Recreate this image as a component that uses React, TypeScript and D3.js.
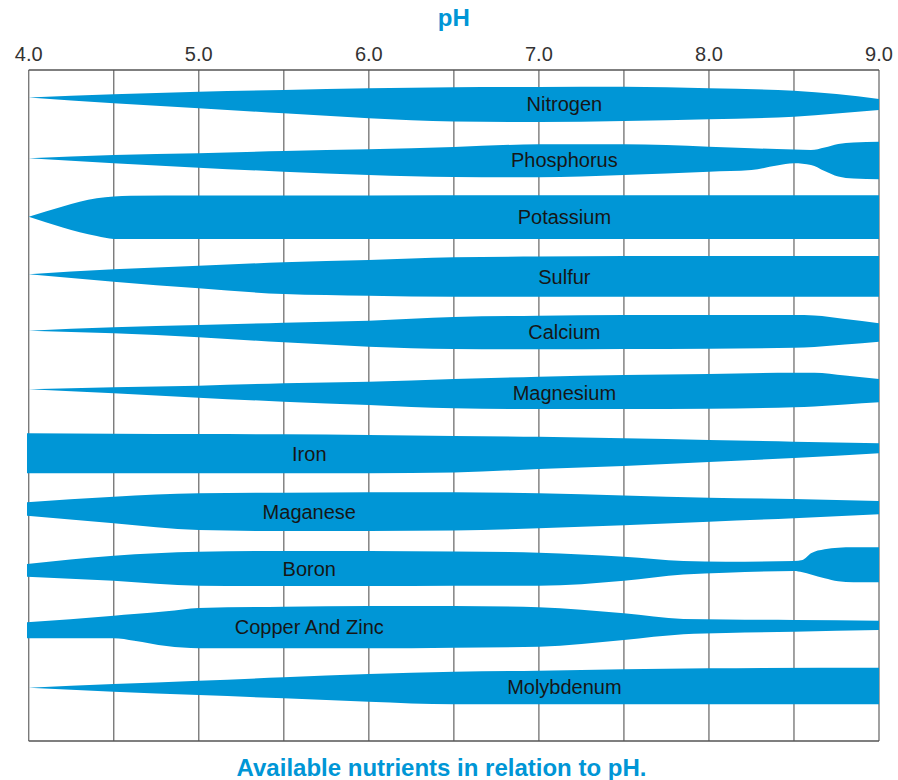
import React from 'react';
import * as d3 from 'd3';

const NUTRIENTS = ['Nitrogen', 'Phosphorus', 'Potassium', 'Sulfur', 'Calcium', 'Magnesium', 'Iron', 'Maganese', 'Boron', 'Copper And Zinc', 'Molybdenum'];
const LABEL_PH = [7.15, 7.15, 7.15, 7.15, 7.15, 7.15, 5.65, 5.65, 5.65, 5.65, 7.15];
const TICKS = [4, 5, 6, 7, 8, 9];
const GRID = [4, 4.5, 5, 5.5, 6, 6.5, 7, 7.5, 8, 8.5, 9];

// availability above (UP) and below (DN) each nutrient's row line
const N_PH = [4, 4.5, 5, 5.5, 6, 6.5, 7, 7.5, 8, 8.5, 8.75, 9];
const N_UP = [0, 3.2, 5.8, 7.5, 9.2, 10.2, 10.5, 10.7, 9.2, 6.8, 3.5, -1.5];
const N_DN = [0, 5.8, 10.8, 15.8, 20.8, 24, 24.5, 23.5, 21.8, 19.2, 16, 12.5];

const P_PH = [4, 4.5, 5, 5.5, 6, 6.5, 7, 7.5, 8, 8.25, 8.4, 8.5, 8.6, 8.68, 8.76, 8.85, 9];
const P_UP = [-2.3, 1, 2.7, 5, 6.7, 9, 11.7, 11.7, 9.3, 7.7, 7, 6.5, 6, 8.5, 12, 13.5, 14.3];
const P_DN = [2.3, 7.3, 11.7, 15.7, 19, 21, 21.3, 19, 15.7, 14, 9.5, 7.3, 9, 15, 20.5, 22.5, 23.3];

const K_PH = [4, 4.2, 4.4, 4.5, 4.6, 5, 6, 7, 8, 9];
const K_UP = [-2.2, 8, 16.2, 18, 18.8, 19, 19, 19.2, 19.2, 19.2];
const K_DN = [2.2, 13, 21.6, 24.5, 24.5, 24.5, 24.5, 24.5, 24.5, 24.5];

const S_PH = [4, 4.5, 5, 5.5, 6, 6.5, 7, 7.5, 8, 9];
const S_UP = [-1.3, 3.7, 7.3, 10.7, 13, 15.7, 16.5, 17, 17, 17];
const S_DN = [1.3, 8.7, 15.3, 21, 22.7, 23.7, 23.7, 23.7, 23.7, 23.7];

const CA_PH = [4, 4.5, 5, 5.5, 6, 6.5, 7, 7.5, 8, 8.5, 8.62, 8.8, 9];
const CA_UP = [0.8, 4.2, 6.5, 8.8, 10.8, 14.5, 15.8, 16.5, 16.5, 16.5, 16, 12.5, 8.2];
const CA_DN = [-0.8, 1.8, 5.8, 10.8, 15.2, 17.5, 17.8, 17.5, 17.2, 16.2, 15.5, 13, 10.2];

const MG_PH = [4, 4.5, 5, 5.5, 6, 6.5, 7, 7.5, 8, 8.5, 8.62, 8.8, 9];
const MG_UP = [0.7, 2.7, 4.3, 6.7, 8.3, 11, 13.3, 15, 16, 17.3, 17.3, 14.5, 11];
const MG_DN = [-0.7, 3.3, 7.7, 11.7, 15, 18.3, 19, 19, 18.7, 17.3, 16.5, 14.5, 12.3];

const FE_PH = [3.99, 4.5, 5, 5.5, 6, 6.5, 7, 7.5, 8, 8.5, 9];
const FE_UP = [15.2, 14.8, 14.5, 14.2, 13.5, 12.5, 11.8, 10.2, 8.5, 6.8, 5.2];
const FE_DN = [24.8, 24.8, 24.8, 24.8, 24.8, 24, 20.5, 17.5, 13.5, 9.5, 4.8];

const MN_PH = [3.99, 4.5, 5, 5.5, 6, 6.5, 7, 7.5, 8, 8.5, 9];
const MN_UP = [4.7, 10.3, 13.7, 14.3, 14.7, 14.7, 13.7, 11.5, 9.3, 8, 6];
const MN_DN = [8.7, 16.3, 23, 24, 24, 23.5, 21.3, 18.3, 14.7, 11.3, 7.3];

const B_PH = [3.99, 4.5, 5, 5.5, 6, 6.5, 7, 7.5, 7.85, 8.1, 8.5, 8.55, 8.6, 8.68, 8.76, 8.85, 9];
const B_UP = [1.5, 9.8, 13.8, 14.5, 14.5, 14, 12.8, 8.8, 4.5, 3.8, 4.5, 5.5, 12.2, 16.2, 17.8, 18.2, 18.2];
const B_DN = [11.2, 15.2, 20.2, 20.5, 20.5, 20.2, 20.2, 15.2, 9, 7.2, 5.5, 6.8, 9, 12.8, 15.8, 16.8, 16.8];

const CU_PH = [3.99, 4.5, 4.62, 4.81, 5, 5.5, 6, 6.5, 7, 7.5, 7.85, 8.1, 8.5, 9];
const CU_UP = [1.7, 8.3, 10, 12.7, 16, 17.3, 18, 18, 16.7, 10.7, 5, 4.5, 4, 3.3];
const CU_DN = [14.3, 14.3, 16.7, 22, 24.3, 24.3, 24.3, 23.7, 22.7, 16, 10.3, 9, 7.7, 6];

const MO_PH = [4, 4.5, 5, 5.5, 6, 6.5, 7, 7.5, 8, 9];
const MO_UP = [-5.2, -1.5, 1.8, 5.2, 8.5, 10.8, 11.8, 13.2, 14.2, 14.8];
const MO_DN = [5.2, 9.2, 12.5, 15.8, 19.2, 21.8, 21.8, 21.8, 21.8, 21.8];

const SERIES = [
  [N_PH, N_UP, N_DN],
  [P_PH, P_UP, P_DN],
  [K_PH, K_UP, K_DN],
  [S_PH, S_UP, S_DN],
  [CA_PH, CA_UP, CA_DN],
  [MG_PH, MG_UP, MG_DN],
  [FE_PH, FE_UP, FE_DN],
  [MN_PH, MN_UP, MN_DN],
  [B_PH, B_UP, B_DN],
  [CU_PH, CU_UP, CU_DN],
  [MO_PH, MO_UP, MO_DN],
];

const BLUE = '#0096d6';
const FONT = '"Liberation Sans", Arial, Helvetica, sans-serif';

export default function App() {
  const W = 898;
  const H = 780;
  const plotTop = 70;
  const plotBottom = 741;
  const x = d3.scaleLinear().domain([4, 9]).range([28.7, 879]);
  const row = d3.scalePoint<string>().domain(NUTRIENTS).range([97.5, 682.5]);
  const avail = d3.scaleLinear().domain([0, 58.5]).range([0, row.step()]);

  const bands = NUTRIENTS.map((name, i) => {
    const [ph, up, dn] = SERIES[i];
    const c = row(name) as number;
    const pts = ph.map((p, j) => ({ p, top: c - avail(up[j]), bot: c + avail(dn[j]) }));
    const area = d3
      .area<{ p: number; top: number; bot: number }>()
      .x((d) => x(d.p))
      .y0((d) => d.bot)
      .y1((d) => d.top)
      .curve(d3.curveMonotoneX);
    const topAt = d3.scaleLinear().domain(ph).range(pts.map((d) => d.top));
    const botAt = d3.scaleLinear().domain(ph).range(pts.map((d) => d.bot));
    const lp = LABEL_PH[i];
    const ly = (topAt(lp) + botAt(lp)) / 2;
    return { name, d: area(pts) as string, lx: x(lp), ly };
  });

  return (
    <svg width={W} height={H} style={{ position: 'absolute', left: 0, top: 0, background: '#fff' }}>
      <text x={(x(4) + x(9)) / 2} y={26} textAnchor="middle" fontFamily={FONT} fontWeight="bold" fontSize={24} fill={BLUE}>
        pH
      </text>
      {TICKS.map((t) => (
        <text key={t} x={x(t)} y={61} textAnchor="middle" fontFamily={FONT} fontSize={20} fill="#333">
          {t.toFixed(1)}
        </text>
      ))}
      {GRID.map((g) => (
        <line key={g} x1={x(g)} x2={x(g)} y1={plotTop} y2={plotBottom} stroke="#7a7a7a" strokeWidth={1.4} />
      ))}
      <line x1={x(4)} x2={x(9)} y1={plotTop} y2={plotTop} stroke="#555" strokeWidth={1.4} />
      <line x1={x(4)} x2={x(9)} y1={plotBottom} y2={plotBottom} stroke="#555" strokeWidth={1.4} />
      {bands.map((b) => (
        <path key={b.name} d={b.d} fill={BLUE} />
      ))}
      {bands.map((b) => (
        <text key={b.name + '-l'} x={b.lx} y={b.ly} dy="0.35em" textAnchor="middle" fontFamily={FONT} fontSize={20} fill="#161616">
          {b.name}
        </text>
      ))}
      <text x={441.5} y={776} textAnchor="middle" fontFamily={FONT} fontWeight="bold" fontSize={24} fill={BLUE}>
        Available nutrients in relation to pH.
      </text>
    </svg>
  );
}
